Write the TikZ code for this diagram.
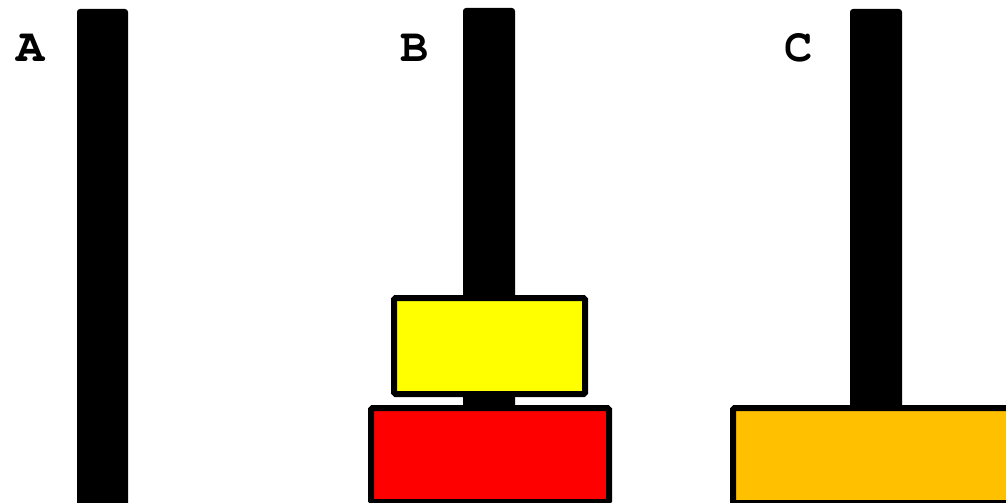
\documentclass[tikz,border=0pt]{standalone}
\usepackage{fontspec}
\definecolor{diskyellow}{HTML}{FFFF00}
\definecolor{diskred}{HTML}{FF0000}
\definecolor{diskorange}{HTML}{FFC000}
% bold Courier for the peg letters
\newcommand{\pegfont}{\fontencoding{T1}\fontfamily{pcr}\fontseries{b}\fontsize{47}{47}\selectfont}
\tikzset{
  peg/.style={fill=black, rounded corners=3pt},
  disk/.style={draw=black, line width=6pt, rounded corners=1.5pt},
  peglabel/.style={font=\pegfont, inner sep=0pt, anchor=base}
}
\begin{document}
\begin{tikzpicture}[x=1pt, y=-1pt]
  \useasboundingbox (0,0) rectangle (1006,503);
  \clip (0,0) rectangle (1006,503);
  % pegs
  \fill[peg] (77,9) rectangle (128,530);
  \fill[peg] (463,8) rectangle (515,530);
  \fill[peg] (850,9) rectangle (902,530);
  % peg labels
  \node[peglabel] (la) at (30.5,61.5) {A};
  \node[peglabel] (lb) at (415,61.5) {B};
  \node[peglabel] (lc) at (799,61.5) {C};
  % disks
  \draw[disk, fill=diskyellow] (394,298) rectangle (585,394);
  \draw[disk, fill=diskred] (371,408) rectangle (609,502);
  \draw[disk, fill=diskorange] (733,408) rectangle (1030,503);
\end{tikzpicture}
\end{document}
